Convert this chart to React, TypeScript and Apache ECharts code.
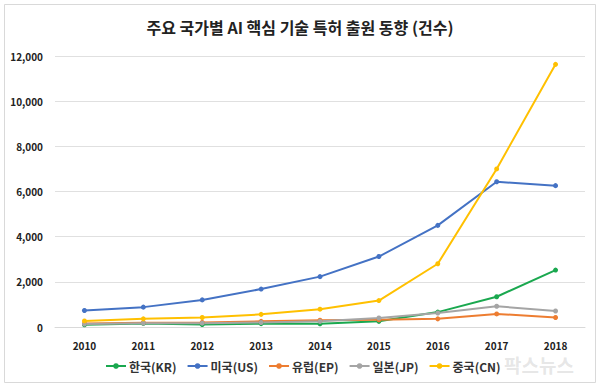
import React, { useEffect, useRef } from "react";
import * as echarts from "echarts";

const years = ["2010", "2011", "2012", "2013", "2014", "2015", "2016", "2017", "2018"];
const korea = [100, 160, 110, 150, 140, 250, 660, 1340, 2520];
const usa = [730, 880, 1200, 1680, 2230, 3120, 4500, 6430, 6260];
const europe = [150, 190, 200, 250, 300, 320, 360, 580, 420];
const japan = [130, 170, 170, 200, 250, 400, 620, 920, 710];
const china = [270, 360, 420, 560, 790, 1170, 2800, 7000, 11630];

const seriesNames = ["한국(KR)", "미국(US)", "유럽(EP)", "일본(JP)", "중국(CN)"];
const seriesColors = ["#1aa84f", "#4472c4", "#ed7d31", "#a5a5a5", "#ffc000"];
const seriesData = [korea, usa, europe, japan, china];

const FONT = "'Noto Sans CJK KR', 'Noto Sans', sans-serif";

export default function App() {
  const ref = useRef<HTMLDivElement>(null);
  useEffect(() => {
    if (!ref.current) return;
    const chart = echarts.init(ref.current, undefined, { renderer: "svg" });
    chart.setOption({
      animation: false,
      backgroundColor: "#ffffff",
      title: {
        text: "주요 국가별 AI 핵심 기술 특허 출원 동향 (건수)",
        left: "center",
        top: 14,
        textStyle: { fontFamily: FONT, fontSize: 16, fontWeight: "bold", color: "#222" },
      },
      graphic: [
        {
          type: "rect",
          shape: { x: 4.5, y: 4.5, width: 591, height: 378 },
          style: { fill: "none", stroke: "#d9d9d9", lineWidth: 1 },
          silent: true,
          z: -1,
        },
        {
          type: "text",
          left: 504,
          top: 355,
          z: -1,
          style: { text: "팍스뉴스", fontFamily: FONT, fontSize: 19, fontWeight: "bold", fill: "rgba(170,170,170,0.3)" },
          silent: true,
        },
      ],
      legend: {
        bottom: 10,
        left: 100,
        itemWidth: 20,
        itemHeight: 7,
        itemGap: 10,
        textStyle: { fontFamily: FONT, fontSize: 12, color: "#333", fontWeight: "bold", padding: [0, 0, 0, -2] },
        data: seriesNames,
      },
      grid: { left: 55, right: 15, top: 56, bottom: 60 },
      xAxis: {
        type: "category",
        data: years,
        boundaryGap: true,
        axisLine: { lineStyle: { color: "#d9d9d9" } },
        axisTick: { show: false },
        axisLabel: { fontFamily: FONT, fontSize: 10, fontWeight: "bold", color: "#222", margin: 13 },
      },
      yAxis: {
        type: "value",
        min: 0,
        max: 12000,
        interval: 2000,
        axisLine: { show: false },
        axisTick: { show: false },
        splitLine: { lineStyle: { color: "#e0e0e0" } },
        axisLabel: {
          fontFamily: FONT,
          fontSize: 10,
          fontWeight: "bold",
          color: "#222",
          margin: 12,
          formatter: (v: number) => v.toLocaleString("en-US"),
        },
      },
      series: seriesNames.map((name, i) => ({
        name,
        type: "line",
        data: seriesData[i],
        color: seriesColors[i],
        symbol: "circle",
        symbolSize: 5,
        lineStyle: { width: 2 },
      })),
    });
    return () => chart.dispose();
  }, []);
  return <div ref={ref} style={{ width: 600, height: 387, position: "absolute", left: 0, top: 0 }} />;
}
